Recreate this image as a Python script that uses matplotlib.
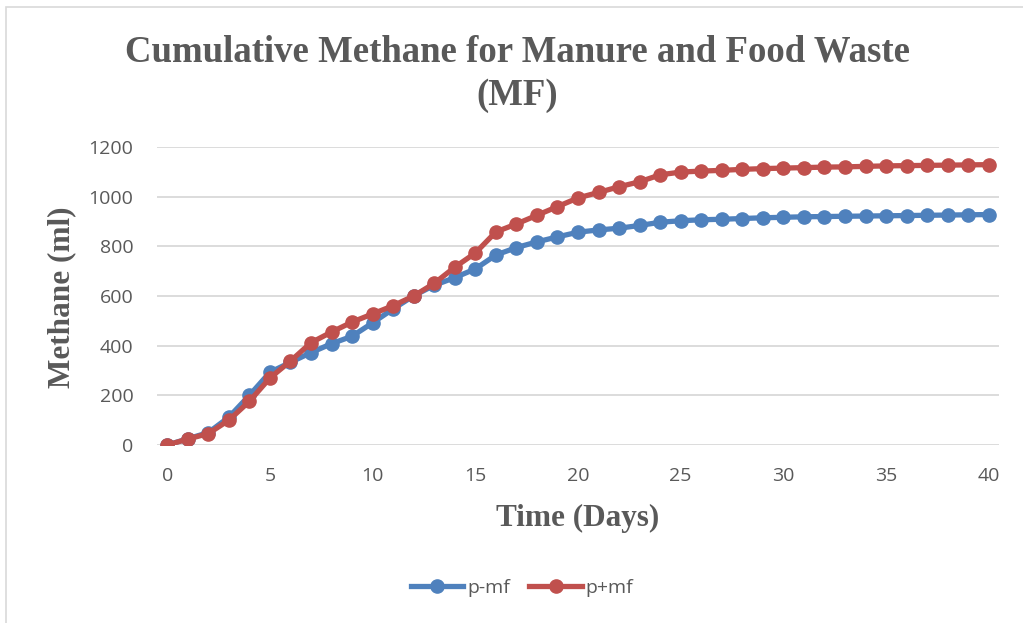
import matplotlib
matplotlib.use('Agg')
import matplotlib.pyplot as plt
from matplotlib.patches import Rectangle

# 累计甲烷产量 (ml)，按天读数
days = list(range(0, 41))
p_minus_mf = [0, 25, 50, 112, 200, 293, 333, 372, 408, 438,
              492, 548, 601, 643, 674, 709, 765, 795, 818, 838,
              857, 866, 873, 884, 897, 903, 907, 909, 912, 915,
              917, 919, 920, 921, 922, 923, 924, 925, 926, 927, 928]
p_plus_mf = [0, 24, 46, 100, 176, 270, 338, 412, 455, 495,
             528, 561, 600, 651, 716, 773, 858, 890, 925, 960,
             995, 1017, 1040, 1060, 1088, 1099, 1103, 1106, 1110, 1113,
             1115, 1117, 1119, 1120, 1122, 1124, 1125, 1126, 1127, 1128, 1129]
series_labels = ['p-mf', 'p+mf']
y_ticks = [0, 200, 400, 600, 800, 1000, 1200]
x_ticks = [0, 5, 10, 15, 20, 25, 30, 35, 40]

W, H = 1023, 623
gray = '#595959'
tick_font = 'Open Sans'
serif = 'Liberation Serif'

fig = plt.figure(figsize=(W / 100, H / 100), dpi=100)
fig.patch.set_facecolor('white')

# 图表外框
fig.patches.append(Rectangle((6 / W, -0.01), 1.0, 1 - 7 / H + 0.01,
                             transform=fig.transFigure, fill=False,
                             edgecolor='#D9D9D9', linewidth=1.2))

left, right = 157 / W, 999 / W
bottom, top = 1 - 445 / H, 1 - 147 / H
ax = fig.add_axes([left, bottom, right - left, top - bottom])

ax.plot(days, p_minus_mf, color='#4F81BD', linewidth=3.8, marker='o',
        markersize=9.5, label=series_labels[0], zorder=3)
ax.plot(days, p_plus_mf, color='#C0504D', linewidth=3.8, marker='o',
        markersize=9.5, label=series_labels[1], zorder=4)

ax.set_xlim(-0.5, 40.5)
ax.set_ylim(0, 1200)
ax.set_xticks(x_ticks)
ax.set_yticks(y_ticks)
ax.tick_params(length=0, labelsize=14, labelcolor=gray)
ax.tick_params(axis='y', pad=17)
ax.tick_params(axis='x', pad=16)
for lab in ax.get_xticklabels() + ax.get_yticklabels():
    lab.set_fontfamily(tick_font)

ax.grid(axis='y', color='#D9D9D9', linewidth=1.3)
ax.set_axisbelow(True)
for s in ax.spines.values():
    s.set_visible(False)

fig.text(517.5 / W, 1 - 74 / H, 'Cumulative Methane for Manure and Food Waste\n(MF)',
         ha='center', va='center', fontsize=26.5, fontweight='bold',
         family=serif, color=gray, linespacing=1.32)
fig.text(578 / W, 1 - 518 / H, 'Time (Days)', ha='center', va='center',
         fontsize=22.5, fontweight='bold', family=serif, color=gray)
fig.text(62 / W, 1 - 297 / H, 'Methane (ml)', ha='center', va='center',
         rotation=90, fontsize=22.5, fontweight='bold', family=serif, color=gray)

leg = fig.legend(loc='center', bbox_to_anchor=(522 / W, 1 - 588 / H), ncol=2,
                 frameon=False, handlelength=2.7, handletextpad=0.2,
                 columnspacing=1.0, prop={'family': tick_font, 'size': 14})
for t in leg.get_texts():
    t.set_color(gray)

fig.savefig('out.png', dpi=100)
